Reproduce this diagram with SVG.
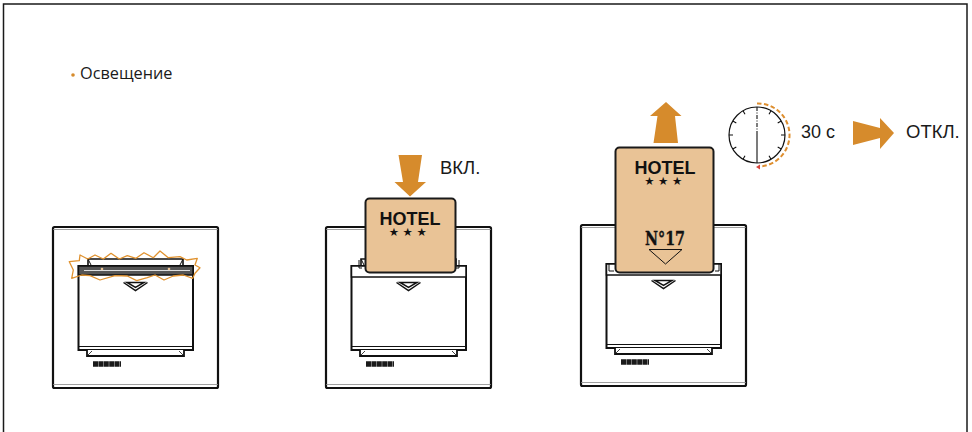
<svg xmlns="http://www.w3.org/2000/svg" width="972" height="432" viewBox="0 0 972 432">
<style>
.sans{font-family:"Liberation Sans",Arial,sans-serif;fill:#1a1a1a}
.hotel{font-family:"Liberation Sans",Arial,sans-serif;font-weight:700;font-size:18px;fill:#111;text-anchor:middle}
.star{font-family:"DejaVu Sans",sans-serif;font-size:11.500px;fill:#111;text-anchor:middle}
.ln{fill:none;stroke:#111}
.card{fill:#E9C396;stroke:#1a1a1a;stroke-width:2}
.org{fill:#D68B2C}
</style>
<defs>
<g id="sw">
<rect x="0" y="0" width="165" height="161" rx="1.500" fill="#fff" stroke="#111" stroke-width="2.200"/>
<path d="M0 2.500H165M0 157.500H165" fill="none" stroke="#888" stroke-width=".8"/>
<path d="M35 39V32H130V39" fill="#fff" stroke="#111" stroke-width="1.600"/>
<path class="ln" d="M35 32L38 38M130 32L127 38" stroke-width="1"/>
<rect x="25.500" y="39" width="114.500" height="84" fill="#fff" stroke="#111" stroke-width="2"/>
<path class="ln" d="M25.500 119.500H140" stroke-width="1"/>
<path d="M34 123V129H131V123" fill="#fff" stroke="#111" stroke-width="1.800"/>
<path class="ln" d="M34.500 128.500L39 124M126 124L130.500 128.500" stroke-width=".8"/>
<path class="ln" d="M70.500 55.500L82.500 63.500L94.500 55.500M74 55.500H91L82.500 60.500Z" stroke-width="1.500"/>
<line x1="40" y1="137" x2="68" y2="137" stroke="#1a1a1a" stroke-width="5.500" stroke-dasharray="5 .4"/>
</g>
</defs>
<rect x="3.500" y="4" width="963.500" height="440" fill="#fff" stroke="#1a1a1a" stroke-width="1.500"/>

<g id="label-lighting">
<circle class="org" cx="73" cy="75" r="1.800"/>
<text x="80" y="79" font-family="Open Sans,Noto Sans,sans-serif" font-size="16.300" fill="#1a1a1a">Освещение</text>
</g>

<g id="switch-lit">
<use href="#sw" x="53" y="227"/>
<rect x="78.500" y="266" width="114.500" height="9" fill="#555" stroke="#111" stroke-width="1.500"/>
<path d="M84 270.500H190" stroke="#ddd" stroke-width="1"/>
<circle cx="102" cy="269" r="1.300" fill="#E9C396"/><circle cx="169" cy="269" r="1.300" fill="#E9C396"/>
<polygon points="69.300,261.700 79.300,260.700 80,255 87.700,259 95,255 103.300,259 111,253.300 119.300,259 127.300,255.700 136,258.300 144,252.700 153.300,257.700 160,251 168.300,257.700 180,256.700 186.700,260 197.300,258.300 195,265 200,267.700 195,273.300 192.700,278.300 183.300,275 173.300,276 164,280 155,275 147.300,277.700 136.700,280.700 127.300,276 115,275.700 100,280 90,275.700 81.700,275 71.700,278.300 73.300,270" fill="none" stroke="#E0922F" stroke-width="1.300" stroke-linejoin="round"/>
</g>

<g id="switch-insert">
<use href="#sw" x="326" y="227"/>
<rect x="351.500" y="266" width="114.500" height="11" fill="#fff" stroke="#111" stroke-width="1.500"/>
<path class="ln" d="M359 260V268H362M459 260V268H456" stroke-width="1"/>
<rect class="card" x="365.500" y="198.500" width="90" height="74" rx="4"/>
<text class="hotel" x="410" y="225">HOTEL</text>
<text class="star" x="409.500" y="236" letter-spacing="3.500">★★★</text>
<polygon class="org" points="398.500,155 422,155 418,182 426,182 410,196.500 394.500,182 403,182"/>
<text class="sans" x="440" y="174" font-size="18.500">ВКЛ.</text>
</g>

<g id="switch-remove">
<use href="#sw" x="581" y="225"/>
<rect x="606.500" y="264" width="114.500" height="11" fill="#fff" stroke="#111" stroke-width="1.500"/>
<path class="ln" d="M609 264V271H614M719 264V271H715" stroke-width="1"/>
<rect class="card" x="615.500" y="147.500" width="98" height="125" rx="4"/>
<text class="hotel" x="665" y="173.500">HOTEL</text>
<text class="star" x="665" y="184.500" letter-spacing="3.500">★★★</text>
<text x="645" y="245" font-family="DejaVu Serif,Liberation Serif,serif" font-weight="700" font-size="18" textLength="40" lengthAdjust="spacingAndGlyphs" fill="#111" stroke="#111" stroke-width=".4">N°17</text>
<polygon points="649,249.500 682,249.500 665.500,264" fill="none" stroke="#111"/>
<polygon class="org" points="666,102 681.500,116 675,116 678,143 653.500,143 657.500,116 650,116"/>
</g>

<g id="timer">
<circle class="ln" cx="757" cy="135" r="28" stroke-width="1.200"/>
<path class="ln" d="M757 107V135" stroke-width="1.100" stroke-dasharray="4 1.500 1 1.500"/>
<path class="ln" d="M757 135V163M729 135H733M785 135H781M771 110.800L769 114.300M743 110.800L745 114.300M771 159.200L769 155.700M743 159.200L745 155.700M732.800 121L736.300 123M781.200 121L777.700 123M732.800 149L736.300 147M781.200 149L777.700 147" stroke-width="1.100"/>
<path d="M757 103.500A31.500 31.500 0 0 1 759 166.500" fill="none" stroke="#DE8F30" stroke-width="2" stroke-dasharray="4.500 2.500"/>
<polygon points="756,167 760,164.500 760,169.500" fill="#D8443C"/>
<text class="sans" x="801" y="138" font-size="18">30 с</text>
<polygon class="org" points="853,121 880,128 880,118 894,133 880,149 880,138 853,145"/>
<text class="sans" x="906" y="138" font-size="18.500">ОТКЛ.</text>
</g>
</svg>
